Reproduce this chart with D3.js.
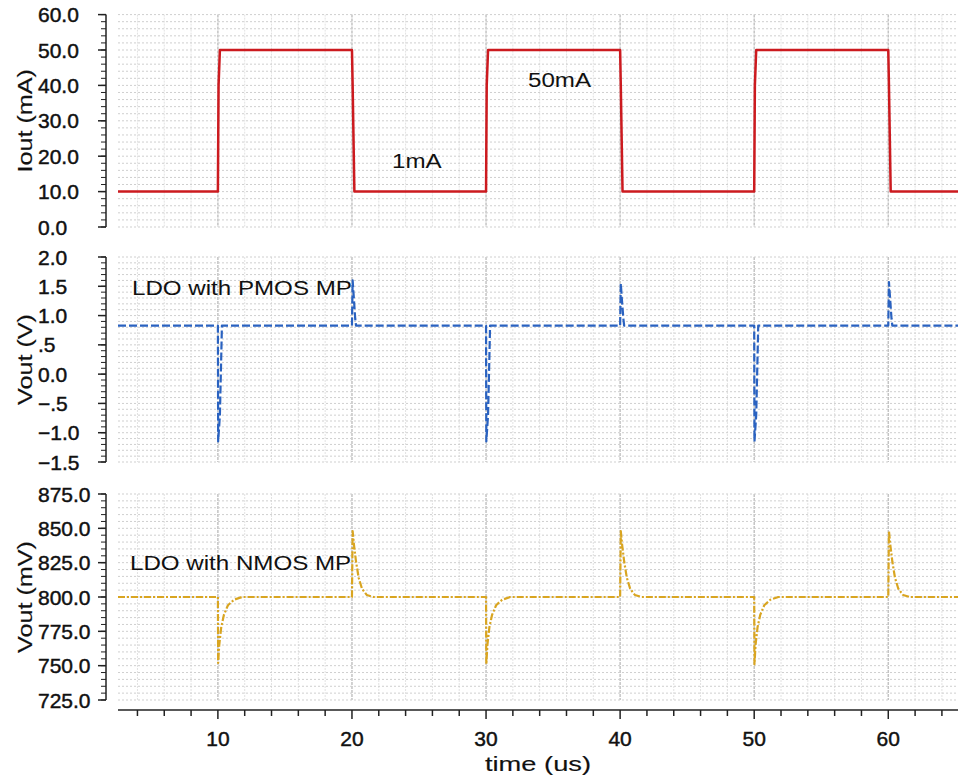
<!DOCTYPE html>
<html>
<head>
<meta charset="utf-8">
<script src="https://cdn.jsdelivr.net/npm/d3@7"></script>
<style>
  body { margin: 0; background: #fff; }
  svg { display: block; font-family: "Liberation Sans", Arial, sans-serif; }
  .ticklbl { font-size: 21px; fill: #111; stroke: #111; stroke-width: 0.45px; }
  .axistitle { font-size: 21px; fill: #111; stroke: #111; stroke-width: 0.15px; }
  .note { font-size: 21px; fill: #111; }
</style>
</head>
<body>
<div id="chart"></div>
<script>
// time axis (us)
var timeRange = [2.55, 65.2];
var timeTicks = [10, 20, 30, 40, 50, 60];

// Iout (mA)
var ioutT = [2.55, 10.0, 10.05, 10.15, 20.0, 20.05, 20.18, 30.0, 30.05, 30.15, 40.0, 40.05, 40.18, 50.0, 50.05, 50.15, 60.0, 60.05, 60.18, 65.2];
var ioutV = [10, 10, 40, 50, 50, 40, 10, 10, 40, 50, 50, 40, 10, 10, 40, 50, 50, 40, 10, 10];
var ioutTicks = [0, 10, 20, 30, 40, 50, 60];

// Vout PMOS (V)
var pmosT = [2.55,
  10.0, 10.02, 10.15, 10.25, 10.3,
  20.0, 20.05, 20.14, 20.24, 20.3,
  30.0, 30.02, 30.15, 30.25, 30.3,
  40.0, 40.05, 40.14, 40.24, 40.3,
  50.0, 50.02, 50.15, 50.25, 50.3,
  60.0, 60.05, 60.14, 60.24, 60.3,
  65.2];
var pmosV = [0.83,
  0.83, -1.15, -0.7, 0.3, 0.83,
  0.83, 1.6, 1.3, 0.95, 0.83,
  0.83, -1.15, -0.7, 0.3, 0.83,
  0.83, 1.55, 1.25, 0.95, 0.83,
  0.83, -1.15, -0.7, 0.3, 0.83,
  0.83, 1.57, 1.28, 0.95, 0.83,
  0.83];
var pmosTicks = [-1.5, -1.0, -0.5, 0.0, 0.5, 1.0, 1.5, 2.0];
var pmosLabels = ["\u22121.5", "\u22121.0", "\u2212.5", "0.0", ".5", "1.0", "1.5", "2.0"];

// Vout NMOS (mV)
var nmosT = [2.55,
  10.0, 10.02, 10.1, 10.25, 10.45, 10.75, 11.2, 11.8,
  20.0, 20.05, 20.15, 20.3, 20.5, 20.75, 21.1, 21.6,
  30.0, 30.02, 30.1, 30.25, 30.45, 30.75, 31.2, 31.8,
  40.0, 40.05, 40.15, 40.3, 40.5, 40.75, 41.1, 41.6,
  50.0, 50.02, 50.1, 50.25, 50.45, 50.75, 51.2, 51.8,
  60.0, 60.05, 60.15, 60.3, 60.5, 60.75, 61.1, 61.6,
  65.2];
var nmosV = [800,
  800, 752, 765, 778, 787, 794, 798, 800,
  800, 848, 838, 826, 814, 806, 801.5, 800,
  800, 751, 765, 778, 787, 794, 798, 800,
  800, 848, 838, 826, 814, 806, 801.5, 800,
  800, 751, 765, 778, 787, 794, 798, 800,
  800, 848, 838, 826, 814, 806, 801.5, 800,
  800];
var nmosTicks = [725, 750, 775, 800, 825, 850, 875];

var W = 958, H = 778;
var plotLeft = 118, plotRight = 958, yAxisX = 106;
var stretch = 1.15;

var svg = d3.select("#chart").append("svg")
  .attr("width", W)
  .attr("height", H);

var x = d3.scaleLinear().domain(timeRange).range([plotLeft, plotRight]);

svg.append("defs").append("clipPath").attr("id", "plotclip")
  .append("rect").attr("x", plotLeft).attr("y", 0).attr("width", plotRight - plotLeft).attr("height", H);

function panel(opts) {
  var y = d3.scaleLinear().domain(opts.domain).range(opts.range);
  var g = svg.append("g");
  var top = y(opts.domain[1]), bot = y(opts.domain[0]);

  // grid: vertical every 2us, darker every 10us
  var vgrid = d3.range(4, 66, 2);
  g.append("g").selectAll("line").data(vgrid).enter().append("line")
    .attr("x1", function(d) { return x(d); })
    .attr("x2", function(d) { return x(d); })
    .attr("y1", top).attr("y2", bot)
    .attr("stroke", function(d) { return d % 10 === 0 ? "#c4c4c4" : "#e2e2e2"; })
    .attr("stroke-width", function(d) { return d % 10 === 0 ? 1.5 : 1; })
    .attr("stroke-dasharray", function(d) { return d % 10 === 0 ? "3,1" : "2,1"; });

  // grid: horizontal dotted at minor steps
  var hgrid = d3.range(opts.domain[0], opts.domain[1] + opts.minor / 2, opts.minor);
  g.append("g").selectAll("line").data(hgrid).enter().append("line")
    .attr("x1", plotLeft).attr("x2", plotRight)
    .attr("y1", function(d) { return y(d); })
    .attr("y2", function(d) { return y(d); })
    .attr("stroke", "#cfcfcf")
    .attr("stroke-width", 1)
    .attr("stroke-dasharray", "2,2");

  // y axis
  var ax = g.append("g").attr("transform", "translate(" + yAxisX + ",0)");
  ax.append("line").attr("x1", 0).attr("x2", 0).attr("y1", top).attr("y2", bot)
    .attr("stroke", "#222").attr("stroke-width", 1.5);
  ax.selectAll(".minor").data(hgrid).enter().append("line")
    .attr("x1", -5).attr("x2", 0)
    .attr("y1", function(d) { return y(d); })
    .attr("y2", function(d) { return y(d); })
    .attr("stroke", "#222").attr("stroke-width", 1);
  ax.selectAll(".major").data(opts.ticks).enter().append("line")
    .attr("x1", -8).attr("x2", 0)
    .attr("y1", function(d) { return y(d); })
    .attr("y2", function(d) { return y(d); })
    .attr("stroke", "#222").attr("stroke-width", 1.5);
  svg.append("g").selectAll("text").data(opts.ticks).enter().append("text")
    .attr("class", "ticklbl")
    .attr("x", 38)
    .attr("y", function(d) { return y(d); })
    .attr("dy", "0.36em")
    .text(function(d, i) { return opts.labels ? opts.labels[i] : d.toFixed(1); });

  svg.append("text")
    .attr("class", "axistitle")
    .attr("text-anchor", "middle")
    .attr("transform", "translate(32," + ((top + bot) / 2) + ") rotate(-90) scale(1.2,1)")
    .text(opts.title);

  // series
  var pts = opts.t.map(function(t, i) { return [t, opts.v[i]]; });
  var line = d3.line()
    .x(function(d) { return x(d[0]); })
    .y(function(d) { return y(d[1]); });
  g.append("path")
    .datum(pts)
    .attr("clip-path", "url(#plotclip)")
    .attr("d", line)
    .attr("fill", "none")
    .attr("stroke", opts.color)
    .attr("stroke-width", opts.width)
    .attr("stroke-dasharray", opts.dash)
    .attr("stroke-linejoin", "round");
  return y;
}

var yI = panel({ domain: [0, 60], range: [227, 14.6], minor: 2, ticks: ioutTicks,
  title: "Iout (mA)", t: ioutT, v: ioutV, color: "#cc1a1f", width: 2.5, dash: null });
var yP = panel({ domain: [-1.5, 2.0], range: [462, 257], minor: 0.1, ticks: pmosTicks, labels: pmosLabels,
  title: "Vout (V)", t: pmosT, v: pmosV, color: "#2a62c0", width: 2.2, dash: "8,3" });
var yN = panel({ domain: [725, 875], range: [700, 494], minor: 5, ticks: nmosTicks,
  title: "Vout (mV)", t: nmosT, v: nmosV, color: "#d9a521", width: 2.2, dash: "7,2,2,2" });

// x axis
var axisY = 710;
var xg = svg.append("g");
xg.append("line").attr("x1", plotLeft).attr("x2", plotRight).attr("y1", axisY).attr("y2", axisY)
  .attr("stroke", "#222").attr("stroke-width", 1.5);
xg.selectAll(".minor").data(d3.range(4, 66, 2)).enter().append("line")
  .attr("x1", function(d) { return x(d); })
  .attr("x2", function(d) { return x(d); })
  .attr("y1", axisY).attr("y2", function(d) { return axisY + (d % 10 === 0 ? 9 : 6); })
  .attr("stroke", "#222").attr("stroke-width", 1.5);
xg.selectAll("text").data(timeTicks).enter().append("text")
  .attr("class", "ticklbl")
  .attr("text-anchor", "middle")
  .attr("x", function(d) { return x(d); })
  .attr("y", 746)
  .text(function(d) { return d; });
svg.append("text").attr("class", "axistitle")
  .attr("text-anchor", "middle")
  .attr("transform", "translate(538,771) scale(1.3,1)")
  .text("time (us)");

// annotations
function note(txt, px, py) {
  svg.append("text").attr("class", "note")
    .attr("transform", "translate(" + px + "," + py + ") scale(" + stretch + ",1)")
    .text(txt);
}
note("50mA", 528, 87);
note("1mA", 392, 168);
note("LDO with PMOS MP", 132, 295);
note("LDO with NMOS MP", 130, 570);
</script>
</body>
</html>
